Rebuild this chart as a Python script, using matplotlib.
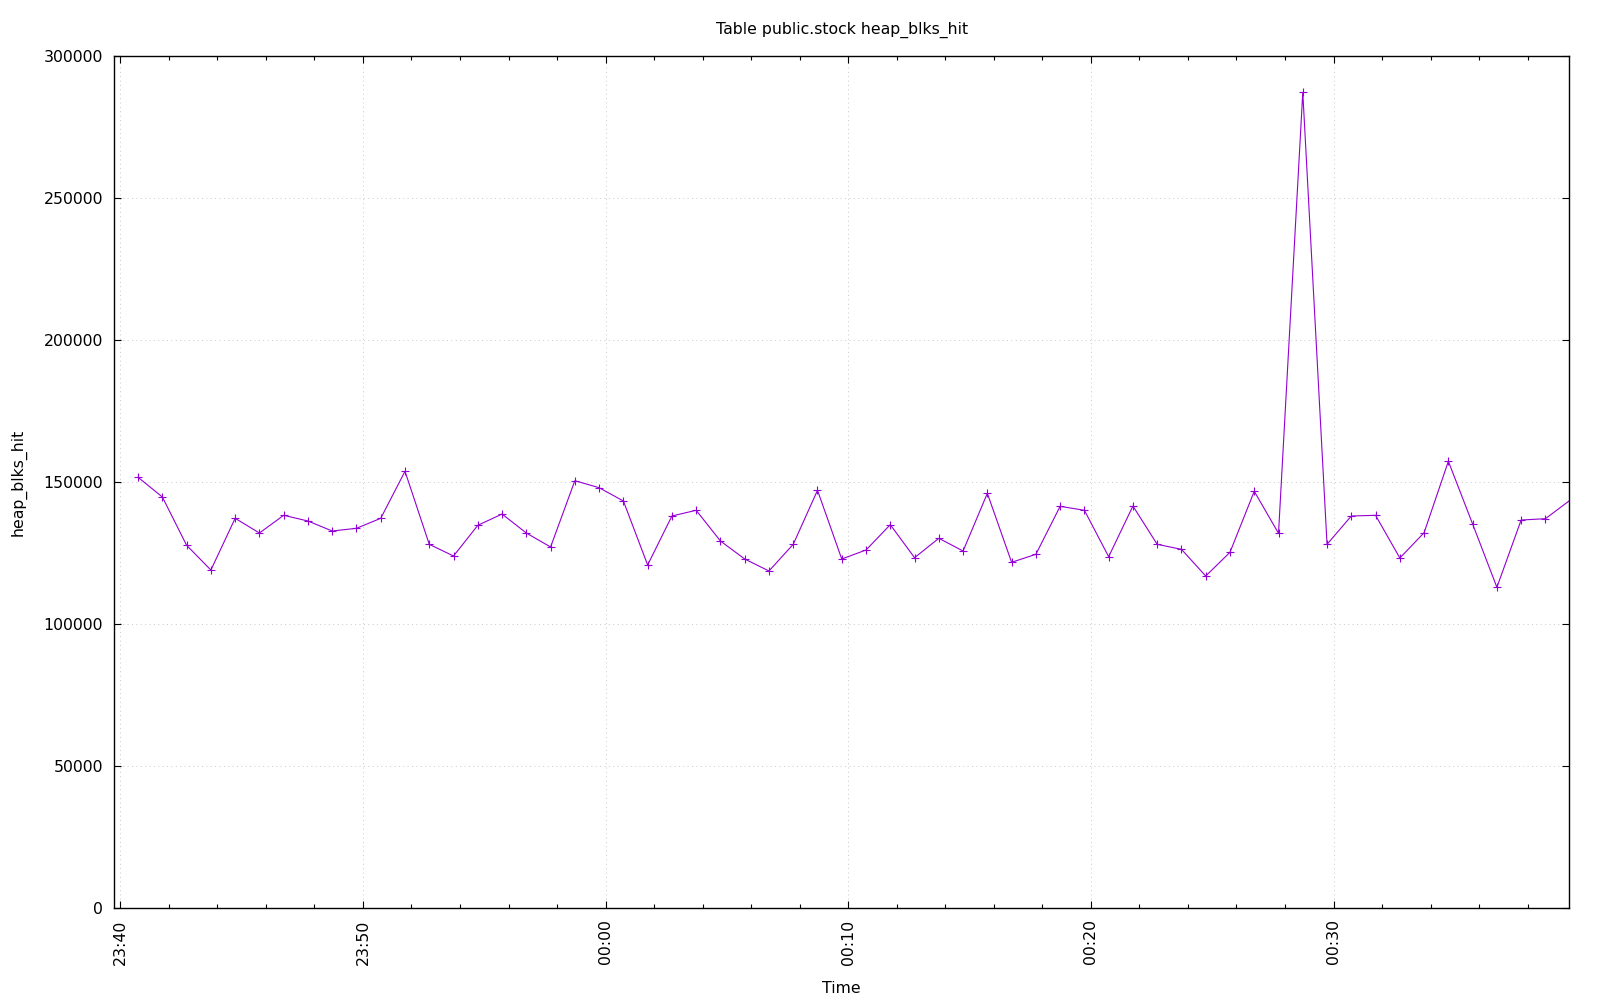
import matplotlib
matplotlib.use('Agg')
import matplotlib.pyplot as plt
import matplotlib.dates as mdates
from matplotlib.ticker import FuncFormatter
import pandas as pd

plt.rcParams['font.family'] = ['DejaVu Sans']
plt.rcParams['font.size'] = 11.3

title = 'Table public.stock heap_blks_hit'
xlabel = 'Time'
ylabel = 'heap_blks_hit'

# one sample per minute
start = '2024-01-01 23:40:44'
heap_blks_hit = [
    151750, 144820, 127810, 119110, 137320, 132140, 138380, 136370, 132850, 133800,
    137320, 153870, 128160, 124050, 134850, 138830, 132140, 127220, 150560, 148100,
    143410, 120880, 138130, 140140, 129330, 122990, 118770, 128160, 147180, 122990,
    126160, 135070, 123450, 130280, 125810, 146120, 121830, 124640, 141540, 140140,
    123800, 141650, 128160, 126400, 117000, 125350, 146830, 132040, 287320, 128160,
    138130, 138380, 123340, 132250, 157390, 135310, 113030, 136720, 137180, 143590,
]
times = pd.date_range(start, periods=len(heap_blks_hit), freq='1min')

x_min = pd.Timestamp('2024-01-01 23:39:45')
x_max = pd.Timestamp('2024-01-02 00:39:43')
y_ticks = [0, 50000, 100000, 150000, 200000, 250000, 300000]

fig = plt.figure(figsize=(16, 10), dpi=100)
ax = fig.add_axes([0.0714, 0.0917, 0.9808 - 0.0714, 0.9437 - 0.0917])

ax.plot(times, heap_blks_hit, color='#9400d3', lw=0.8, marker='+', ms=6,
        mew=0.8, markevery=slice(0, len(heap_blks_hit) - 1))

ax.set_xlim(x_min, x_max)
ax.set_ylim(0, 300000)
ax.set_yticks(y_ticks)
ax.yaxis.set_major_formatter(FuncFormatter(lambda v, p: '%d' % v))

ax.xaxis.set_major_locator(mdates.MinuteLocator(byminute=range(0, 60, 10)))
ax.xaxis.set_minor_locator(mdates.MinuteLocator(byminute=range(0, 60, 2)))
ax.xaxis.set_major_formatter(mdates.DateFormatter('%H:%M'))
plt.setp(ax.get_xticklabels(), rotation=90, va='top', ha='center')

ax.tick_params(which='both', direction='in', top=True, right=True, colors='black')
ax.tick_params(which='major', length=5, width=0.8, pad=8)
ax.tick_params(which='minor', length=3, width=0.8)

for s in ax.spines.values():
    s.set_linewidth(1.0)

ax.grid(True, which='major', color='#c8c8c8', lw=0.7, linestyle=(0, (1, 3.5)))
ax.set_axisbelow(True)

ax.set_title(title, fontsize=11.3, pad=16.5)
ax.set_xlabel(xlabel, fontsize=11.3, labelpad=12)
ax.set_ylabel(ylabel, fontsize=11.3, labelpad=12.5)

fig.savefig('out.png', dpi=100)
